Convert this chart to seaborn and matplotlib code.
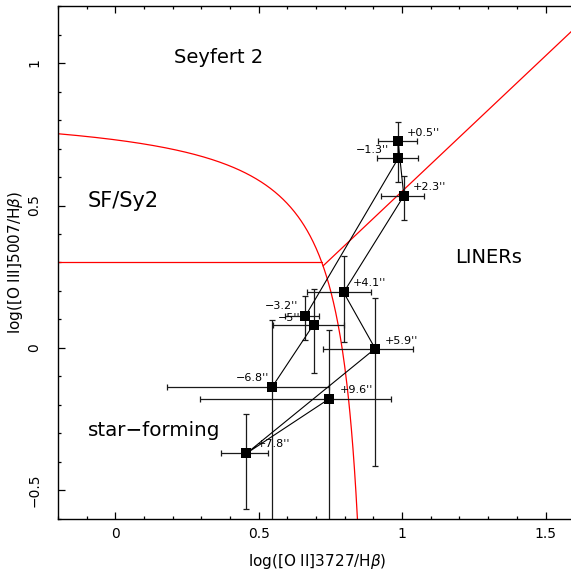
import numpy as np
import pandas as pd
import seaborn as sns
import matplotlib.pyplot as plt
from matplotlib.ticker import MultipleLocator

# slit positions along the long slit, in the order they are joined
labels = ["\u22126.8''", "\u22125''", "\u22123.2''", "\u22121.3''", "+0.5''",
          "+2.3''", "+4.1''", "+5.9''", "+7.8''", "+9.6''"]
log_o2 = [0.546, 0.691, 0.662, 0.986, 0.986, 1.006, 0.796, 0.906, 0.457, 0.746]
log_o3 = [-0.138, 0.082, 0.111, 0.665, 0.725, 0.534, 0.195, -0.002, -0.370, -0.178]
o2_err_lo = [0.366, 0.143, 0.069, 0.074, 0.070, 0.078, 0.128, 0.181, 0.090, 0.450]
o2_err_hi = [0.198, 0.107, 0.049, 0.070, 0.065, 0.070, 0.097, 0.131, 0.074, 0.216]
o3_err_lo = [0.900, 0.171, 0.083, 0.081, 0.070, 0.085, 0.173, 0.412, 0.196, 0.900]
o3_err_hi = [0.236, 0.124, 0.073, 0.070, 0.069, 0.071, 0.128, 0.178, 0.137, 0.241]

# demarcation lines (Lamareille 2010 blue diagram)
sf_a, sf_b, sf_c = 0.11, 0.92, 0.85     # y = a/(x-b)+c
lin_m, lin_q = 0.95, -0.4               # Sy2 / LINER
sf_sy2 = 0.3                            # SF/Sy2 horizontal

df = pd.DataFrame({"x": log_o2, "y": log_o3})

sns.set_style("ticks")
plt.rcParams["font.family"] = ["DejaVu Sans"]
for k in ["text.color", "axes.labelcolor", "xtick.color", "ytick.color", "axes.edgecolor"]:
    plt.rcParams[k] = "black"
plt.rcParams["xtick.direction"] = "in"
plt.rcParams["ytick.direction"] = "in"
plt.rcParams["xtick.top"] = True
plt.rcParams["ytick.right"] = False
plt.rcParams["axes.linewidth"] = 1.0

fig = plt.figure(figsize=(5.71, 5.78), dpi=100)
ax = fig.add_axes([0.1016, 0.1021, 0.909, 0.8875])

xmin, xmax, ymin, ymax = -0.2, 1.61, -0.6, 1.2

# red boundaries
x_end = sf_b + sf_a / (ymin - sf_c)
xc = np.linspace(xmin, x_end, 400)
ax.plot(xc, sf_a / (xc - sf_b) + sf_c, color="red", lw=0.9)
x_kink = sf_b + sf_a / (sf_sy2 - sf_c)
ax.plot([xmin, x_kink], [sf_sy2, sf_sy2], color="red", lw=0.9)
# intersection of LINER line with SF curve
A, B, C = lin_m, -(lin_m * sf_b + (sf_c - lin_q)), (sf_c - lin_q) * sf_b - sf_a
x_int = (-B - np.sqrt(B * B - 4 * A * C)) / (2 * A)
ax.plot([x_int, xmax], [lin_m * x_int + lin_q, lin_m * xmax + lin_q], color="red", lw=0.9)

ax.errorbar(log_o2, log_o3, xerr=[o2_err_lo, o2_err_hi], yerr=[o3_err_lo, o3_err_hi],
            fmt="none", ecolor="0.1", elinewidth=0.9, capsize=2.5, capthick=0.9, zorder=3)
sns.lineplot(data=df, x="x", y="y", sort=False, estimator=None, color="k", lw=0.8,
             ax=ax, zorder=4)
sns.scatterplot(data=df, x="x", y="y", marker="s", s=55, color="k", edgecolor="k",
                linewidth=0, ax=ax, zorder=5)

# label offsets in pixels (dx, dy)
offs = [(-3, 9), (-13, 6.5), (-7, 10), (-9, 8), (9, 8.5),
        (9, 8.5), (9.5, 9), (10, 8), (10.5, 9), (10, 8.5)]
for lab, xv, yv, (dx, dy) in zip(labels, log_o2, log_o3, offs):
    ha = "right" if lab.startswith("\u2212") else "left"
    ax.annotate(lab, (xv, yv), xytext=(dx * 0.72, dy * 0.72), textcoords="offset points",
                ha=ha, va="center", fontsize=8, zorder=6)

ax.text(0.36, 1.02, "Seyfert 2", fontsize=14, ha="center", va="center")
ax.text(-0.097, 0.516, "SF/Sy2", fontsize=15, ha="left", va="center")
ax.text(1.186, 0.316, "LINERs", fontsize=14, ha="left", va="center")
ax.text(-0.094, -0.288, "star\u2212forming", fontsize=14.3, ha="left", va="center")

ax.set_xlim(xmin, xmax)
ax.set_ylim(ymin, ymax)
ax.xaxis.set_major_locator(MultipleLocator(0.5))
ax.xaxis.set_minor_locator(MultipleLocator(0.1))
ax.yaxis.set_major_locator(MultipleLocator(0.5))
ax.yaxis.set_minor_locator(MultipleLocator(0.1))
ax.set_xticks([0, 0.5, 1, 1.5])
ax.set_xticklabels(["0", "0.5", "1", "1.5"])
ax.set_yticks([-0.5, 0, 0.5, 1])
ax.set_yticklabels(["\u22120.5", "0", "0.5", "1"], rotation=90, va="center")
ax.tick_params(which="major", length=5, width=0.9, labelsize=10, pad=6)
ax.tick_params(which="minor", length=2.5, width=0.9)
ax.tick_params(axis="y", pad=12)
ax.set_xlabel(r"log([O II]3727/H$\beta$)", fontsize=11, labelpad=8)
ax.set_ylabel(r"log([O III]5007/H$\beta$)", fontsize=11, labelpad=1.5)

fig.savefig("out.png", dpi=100)
